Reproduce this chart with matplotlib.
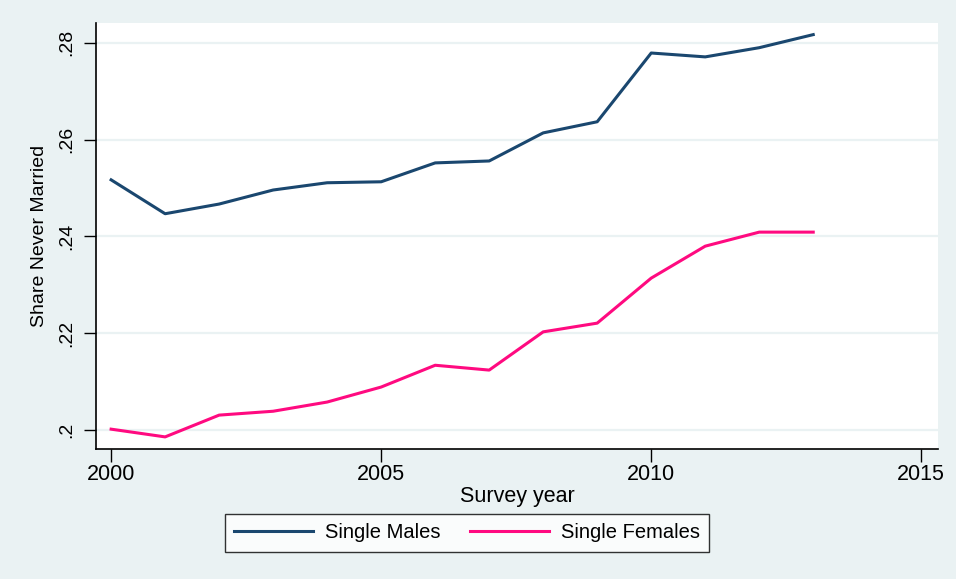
import matplotlib.pyplot as plt
from matplotlib.ticker import FixedLocator

plt.rcParams['font.family'] = ['Liberation Sans', 'DejaVu Sans']

years = [2000, 2001, 2002, 2003, 2004, 2005, 2006, 2007, 2008, 2009, 2010, 2011, 2012, 2013]
males = [0.2517, 0.2447, 0.2467, 0.2496, 0.2511, 0.2513, 0.2552, 0.2556, 0.2614, 0.2637,
         0.2779, 0.2771, 0.2790, 0.2817]
females = [0.2002, 0.1986, 0.2031, 0.2039, 0.2058, 0.2089, 0.2134, 0.2124, 0.2203, 0.2221,
           0.2314, 0.2380, 0.2409, 0.2409]
yticks = [0.20, 0.22, 0.24, 0.26, 0.28]
ytick_labels = [".2", ".22", ".24", ".26", ".28"]
xticks = [2000, 2005, 2010, 2015]

bg = "#EAF2F3"
fig = plt.figure(figsize=(9.56, 5.79), dpi=100, facecolor=bg)
ax = fig.add_axes([96 / 956, 1 - 449 / 579, (938 - 96) / 956, (449 - 23) / 579])
ax.set_facecolor("white")

# grid lines
for yv in yticks:
    ax.axhline(yv, color=bg, lw=1.6, zorder=1)

ax.plot(years, males, color="#1A476F", lw=2.2, label="Single Males", zorder=3)
ax.plot(years, females, color="#FF0A80", lw=2.2, label="Single Females", zorder=3)

ax.set_xlim(1999.72, 2015.31)
ax.set_ylim(0.1961, 0.2841)
ax.xaxis.set_major_locator(FixedLocator(xticks))
ax.set_yticks(yticks)
ax.set_yticklabels(ytick_labels, rotation=90, va="center")
ax.tick_params(axis="both", length=9, width=1, color="black")
ax.tick_params(axis="y", labelsize=14, pad=6)
ax.tick_params(axis="x", labelsize=15.5, pad=1.5)

for s in ["top", "right"]:
    ax.spines[s].set_visible(False)
for s in ["left", "bottom"]:
    ax.spines[s].set_linewidth(1.2)

ax.set_xlabel("Survey year", fontsize=15.5, labelpad=1)
ax.set_ylabel("Share Never Married", fontsize=14, labelpad=7)

leg = fig.legend(loc="center", bbox_to_anchor=(467 / 956, 1 - 533 / 579), ncol=2,
                 fontsize=14.5, frameon=True, fancybox=False, edgecolor="black",
                 handlelength=3.9, handletextpad=0.6, columnspacing=1.5,
                 borderpad=0.45)
leg.get_frame().set_linewidth(1.0)
leg.get_frame().set_facecolor("white")

fig.savefig("out.png", dpi=100, facecolor=bg)
